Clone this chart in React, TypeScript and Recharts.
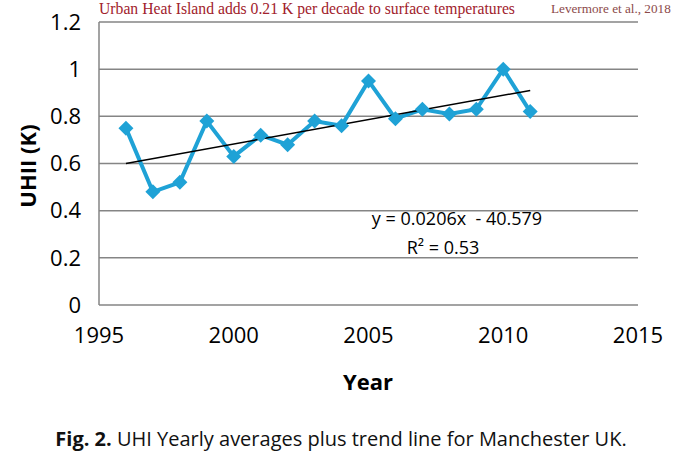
import React from 'react';
import { LineChart, Line, XAxis, YAxis, CartesianGrid } from 'recharts';

const years = [1996, 1997, 1998, 1999, 2000, 2001, 2002, 2003, 2004, 2005, 2006, 2007, 2008, 2009, 2010, 2011];
const uhii = [0.75, 0.48, 0.52, 0.78, 0.63, 0.72, 0.68, 0.78, 0.76, 0.95, 0.79, 0.83, 0.81, 0.83, 1.0, 0.82];

// trend line end points as drawn in the figure
const trendYears = [1996, 2011];
const trendValues = [0.6, 0.91];

const xTicks = [1995, 2000, 2005, 2010, 2015];
const yTicks = [0, 0.2, 0.4, 0.6, 0.8, 1, 1.2];

const seriesData = years.map((year, i) => ({ year, uhii: uhii[i] }));
const trendData = trendYears.map((year, i) => ({ year, trend: trendValues[i] }));

const BLUE = '#1fa2d6';
const GRID = '#858585';
const TICK_FONT = '"Open Sans", sans-serif';

const Diamond = (props: any) => {
  const { cx, cy, index } = props;
  if (cx == null || cy == null) return null;
  const r = 7.5;
  return (
    <path
      key={`d-${index}`}
      d={`M${cx},${cy - r}L${cx + r},${cy}L${cx},${cy + r}L${cx - r},${cy}Z`}
      fill={BLUE}
    />
  );
};

const App: React.FC = () => {
  return (
    <div style={{ position: 'relative', width: 680, height: 465, background: '#fff', overflow: 'hidden' }}>
      <style>{'body{margin:0}'}</style>

      <div
        style={{
          position: 'absolute',
          left: 99,
          top: 0,
          fontFamily: '"Liberation Serif", serif',
          fontSize: 15.7,
          lineHeight: '17px',
          color: '#a1222c',
          whiteSpace: 'nowrap',
        }}
      >
        Urban Heat Island adds 0.21 K per decade to surface temperatures
      </div>
      <div
        style={{
          position: 'absolute',
          left: 551,
          top: 1,
          fontFamily: '"Liberation Serif", serif',
          fontSize: 13.2,
          lineHeight: '15px',
          color: '#8c4a4a',
          whiteSpace: 'nowrap',
        }}
      >
        Levermore et al., 2018
      </div>

      <LineChart
        width={680}
        height={465}
        margin={{ top: 22, right: 42, bottom: 120, left: 0 }}
      >
        <CartesianGrid vertical={false} stroke={GRID} strokeWidth={1.5} />
        <XAxis
          dataKey="year"
          type="number"
          domain={[1995, 2015]}
          ticks={xTicks}
          axisLine={false}
          tickLine={false}
          tickSize={0}
          tickMargin={22}
          height={40}
          tick={{ fill: '#000', fontSize: 22, fontFamily: TICK_FONT, fontWeight: 500 }}
        />
        <YAxis
          type="number"
          domain={[0, 1.2]}
          ticks={yTicks}
          width={99}
          axisLine={{ stroke: GRID, strokeWidth: 1.5 }}
          tickLine={false}
          tickSize={0}
          tickMargin={18}
          tick={{ fill: '#000', fontSize: 22, fontFamily: TICK_FONT, fontWeight: 500 }}
        />
        <Line
          data={seriesData}
          dataKey="uhii"
          stroke={BLUE}
          strokeWidth={4}
          dot={Diamond}
          activeDot={false}
          isAnimationActive={false}
        />
        <Line
          data={trendData}
          dataKey="trend"
          stroke="#000"
          strokeWidth={1.5}
          dot={false}
          activeDot={false}
          isAnimationActive={false}
        />
      </LineChart>

      <div
        style={{
          position: 'absolute',
          left: 27,
          top: 166,
          transform: 'translate(-50%, -50%) rotate(-90deg)',
          fontFamily: TICK_FONT,
          fontWeight: 700,
          fontSize: 22,
          color: '#000',
          whiteSpace: 'nowrap',
        }}
      >
        UHII (K)
      </div>
      <div
        style={{
          position: 'absolute',
          left: 368,
          top: 381,
          transform: 'translate(-50%, -50%)',
          fontFamily: TICK_FONT,
          fontWeight: 700,
          fontSize: 22,
          color: '#000',
          whiteSpace: 'nowrap',
        }}
      >
        Year
      </div>

      <div
        style={{
          position: 'absolute',
          left: 457,
          top: 218,
          transform: 'translate(-50%, -50%)',
          fontFamily: TICK_FONT,
          fontSize: 18,
          color: '#000',
          whiteSpace: 'pre',
        }}
      >
        {'y = 0.0206x  - 40.579'}
      </div>
      <div
        style={{
          position: 'absolute',
          left: 443,
          top: 247,
          transform: 'translate(-50%, -50%)',
          fontFamily: TICK_FONT,
          fontSize: 18,
          color: '#000',
          whiteSpace: 'nowrap',
        }}
      >
        R² = 0.53
      </div>

      <div
        style={{
          position: 'absolute',
          left: 341,
          top: 438,
          transform: 'translate(-50%, -50%)',
          fontFamily: '"Open Sans", sans-serif',
          fontSize: 20,
          color: '#111',
          whiteSpace: 'nowrap',
        }}
      >
        <b>Fig. 2.</b> UHI Yearly averages plus trend line for Manchester UK.
      </div>
    </div>
  );
};

export default App;
